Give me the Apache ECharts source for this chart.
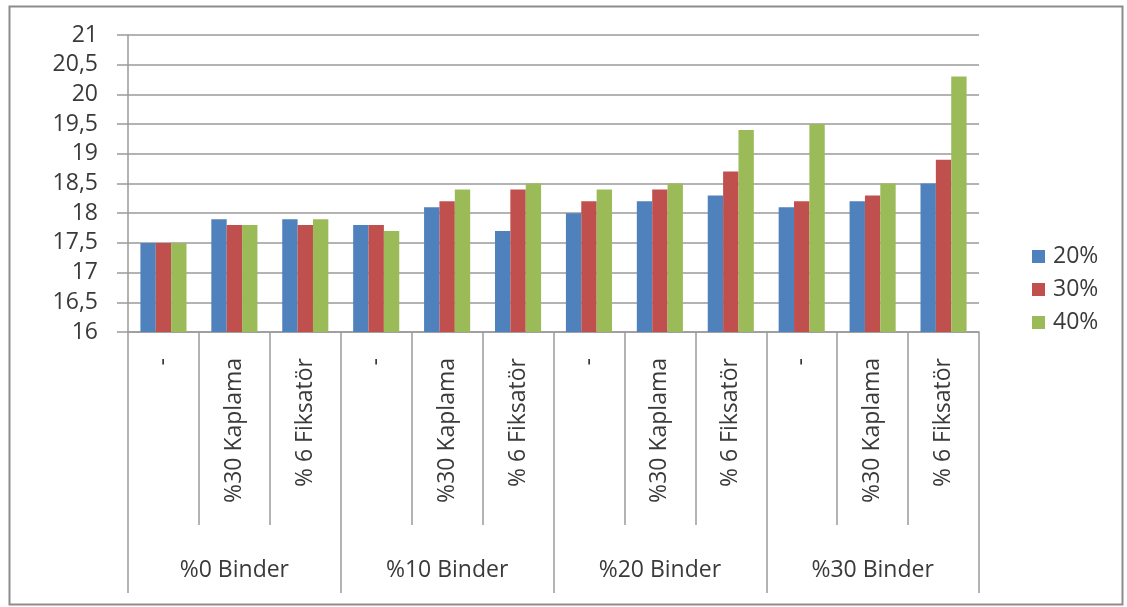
<!DOCTYPE html>
<html>
<head>
<meta charset="utf-8">
<script src="https://cdn.jsdelivr.net/npm/echarts@6/dist/echarts.min.js"></script>
<style>
html,body{margin:0;padding:0;background:#fff;}
#chart{width:1127px;height:607px;}
</style>
</head>
<body>
<div id="chart"></div>
<script>
const subCategories = ['-', '%30 Kaplama', '% 6 Fiksatör', '-', '%30 Kaplama', '% 6 Fiksatör', '-', '%30 Kaplama', '% 6 Fiksatör', '-', '%30 Kaplama', '% 6 Fiksatör'];
const groups = ['%0 Binder', '%10 Binder', '%20 Binder', '%30 Binder'];
const seriesNames = ['20%', '30%', '40%'];
const values20 = [17.5, 17.9, 17.9, 17.8, 18.1, 17.7, 18.0, 18.2, 18.3, 18.1, 18.2, 18.5];
const values30 = [17.5, 17.8, 17.8, 17.8, 18.2, 18.4, 18.2, 18.4, 18.7, 18.2, 18.3, 18.9];
const values40 = [17.5, 17.8, 17.9, 17.7, 18.4, 18.5, 18.4, 18.5, 19.4, 19.5, 18.5, 20.3];
const colors = ['#4F81BD', '#C0504D', '#9BBB59'];

const FONT = 'Open Sans';
const TXT = '#3a3a3a';
const LINE = '#9a9a9a';
const FS = 23;

const chart = echarts.init(document.getElementById('chart'), null, {renderer: 'canvas'});
chart.setOption({
  animation: false,
  backgroundColor: '#fff',
  textStyle: {fontFamily: FONT},
  graphic: [{
    type: 'rect', left: 7, top: 4, z: -1,
    shape: {width: 1113, height: 598},
    style: {fill: 'none', stroke: '#8c8c8c', lineWidth: 2}
  }],
  legend: {
    orient: 'vertical',
    left: 1027, top: 240,
    itemWidth: 13, itemHeight: 13, itemGap: 10,
    icon: 'rect',
    textStyle: {fontSize: FS, color: TXT, fontFamily: FONT, padding: [0, 0, 0, 3]},
    data: seriesNames
  },
  grid: {left: 128, right: 148, top: 35, bottom: 275, containLabel: false},
  xAxis: [{
    type: 'category',
    data: subCategories,
    position: 'bottom',
    axisLine: {show: true, lineStyle: {color: LINE, width: 1.5}},
    axisTick: {show: true, interval: 0, length: 193, lineStyle: {color: LINE, width: 1.5}},
    axisLabel: {interval: 0, rotate: 90, margin: 26, fontSize: FS, color: TXT, fontFamily: FONT},
    splitLine: {show: false}
  }, {
    type: 'category',
    data: groups,
    position: 'bottom',
    axisLine: {show: false},
    axisTick: {show: true, interval: 0, length: 261, lineStyle: {color: LINE, width: 1.5}},
    axisLabel: {interval: 0, margin: 227, fontSize: FS, color: TXT, fontFamily: FONT},
    splitLine: {show: false}
  }],
  yAxis: {
    type: 'value',
    min: 16, max: 21, interval: 0.5,
    axisLine: {show: true, lineStyle: {color: LINE, width: 1.5}},
    axisTick: {show: true, length: 11, lineStyle: {color: LINE, width: 1.5}},
    axisLabel: {
      margin: 30, fontSize: FS, color: TXT, fontFamily: FONT,
      formatter: v => String(v).replace('.', ',')
    },
    splitLine: {show: true, lineStyle: {color: LINE, width: 1.5}}
  },
  series: [
    {name: seriesNames[0], type: 'bar', data: values20, itemStyle: {color: colors[0]}, barGap: '0%', barCategoryGap: '35%'},
    {name: seriesNames[1], type: 'bar', data: values30, itemStyle: {color: colors[1]}, barGap: '0%', barCategoryGap: '35%'},
    {name: seriesNames[2], type: 'bar', data: values40, itemStyle: {color: colors[2]}, barGap: '0%', barCategoryGap: '35%'}
  ]
});
</script>
</body>
</html>
